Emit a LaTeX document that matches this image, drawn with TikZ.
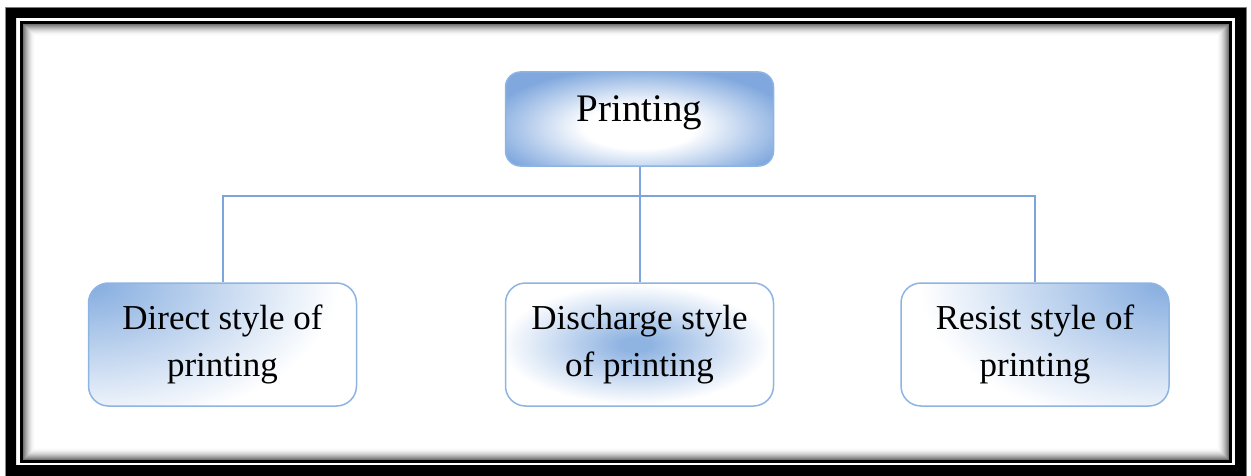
\documentclass[tikz,border=0pt]{standalone}
\usepackage{fontspec}
\setmainfont{Liberation Serif}
\definecolor{sblue}{RGB}{132,172,223}
\definecolor{pblue}{RGB}{128,168,222}
\definecolor{bordblue}{RGB}{141,180,226}
\definecolor{lineblue}{RGB}{125,165,220}
\pgfdeclareradialshading{cornerglow}{\pgfpointorigin}{color(0bp)=(sblue); color(25bp)=(white); color(50bp)=(white)}
\pgfdeclareradialshading{spotglow}{\pgfpointorigin}{color(0bp)=(sblue!90); color(3bp)=(sblue!90); color(25bp)=(white); color(50bp)=(white)}
\pgfdeclareradialshading{centerglow}{\pgfpointorigin}{color(0bp)=(white); color(9bp)=(white); color(25bp)=(pblue); color(50bp)=(pblue)}
\begin{document}
\begin{tikzpicture}[x=1pt,y=1pt,
  box/.style={draw=bordblue, line width=1.5pt, rounded corners=20pt, minimum width=268pt,
    minimum height=123pt, inner sep=0pt, align=center, font=\fontsize{35}{47}\selectfont},
  conn/.style={draw=lineblue, line width=2pt}]
\useasboundingbox (0,0) rectangle (1251,475);
\clip (0,0) rectangle (1251,475);
% frame
\draw[black!45, line width=1pt] (5.5,-5) rectangle (1246.5,467.5);
\fill[black, even odd rule] (6,-5) rectangle (1246,467) (16,10) rectangle (1235,457);
\draw[black, line width=3pt] (21.5,13.5) rectangle (1230.5,452.5);
\foreach \i in {0,...,11} {
  \pgfmathsetmacro\c{55*(1-\i/12)^1.8}
  \draw[black!\c, line width=1.05pt] (23.5+\i,15.5+\i) rectangle (1228.5-\i,450.5-\i);
}
% nodes
\node[box, rounded corners=15pt, minimum height=94pt, font=\fontsize{39}{47}\selectfont,
  text height=26.6pt, text depth=20.6pt,
  path picture={\fill[pblue] (path picture bounding box.south west) rectangle (path picture bounding box.north east);
    \shade[shading=centerglow] ([yshift=-8pt]path picture bounding box.center) ellipse [x radius=155pt, y radius=60pt];}]
  (P) at (639.5,356) {Printing};
\node[box,
  path picture={\fill[white] (path picture bounding box.south west) rectangle (path picture bounding box.north east);
    \shade[shading=cornerglow] (path picture bounding box.north west) ellipse [x radius=250pt, y radius=145pt];}]
  (D) at (222.5,130.5) {Direct style of\\printing};
\node[box,
  path picture={\fill[white] (path picture bounding box.south west) rectangle (path picture bounding box.north east);
    \shade[shading=spotglow] ([xshift=-4pt]path picture bounding box.center) ellipse [x radius=135pt, y radius=60pt];}]
  (C) at (639.5,130.5) {Discharge style\\of printing};
\node[box,
  path picture={\fill[white] (path picture bounding box.south west) rectangle (path picture bounding box.north east);
    \shade[shading=cornerglow] (path picture bounding box.north east) ellipse [x radius=250pt, y radius=145pt];}]
  (R) at (1035,130.5) {Resist style of\\printing};
% connectors
\path (P.south) ++(0,-29) coordinate (hub);
\draw[conn] (P.south) -- (hub);
\draw[conn] (D.north) |- (hub) -| (R.north);
\draw[conn] (hub) -- (C.north);
\end{tikzpicture}
\end{document}
